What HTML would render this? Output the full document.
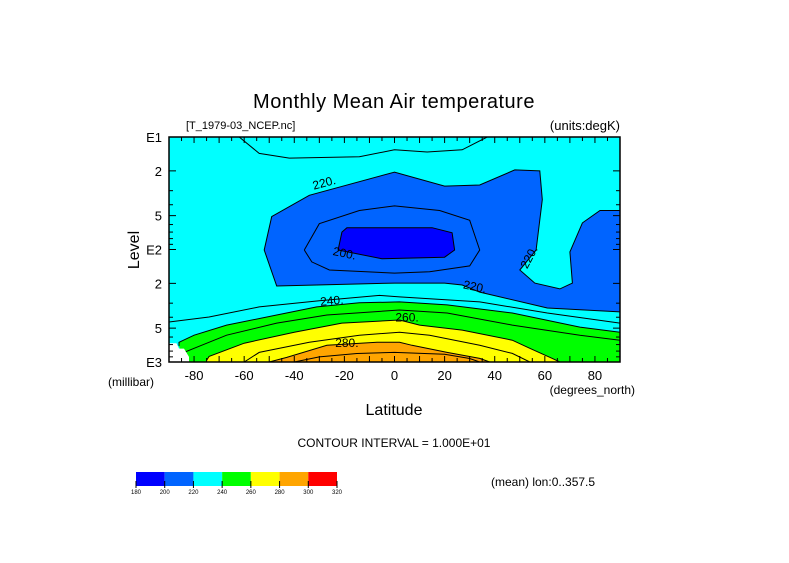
<!DOCTYPE html>
<html><head><meta charset="utf-8"><style>
body{margin:0;background:#fff;}
svg text{font-family:"Liberation Sans",sans-serif;fill:#000;}
</style></head><body>
<svg id="chart" width="789" height="558" xmlns="http://www.w3.org/2000/svg">
<rect width="789" height="558" fill="#fff"/>
<text x="394" y="108" font-size="20" text-anchor="middle" letter-spacing="0.5">Monthly Mean Air temperature</text>
<text x="186" y="129" font-size="11">[T_1979-03_NCEP.nc]</text>
<text x="620" y="130" font-size="13" text-anchor="end">(units:degK)</text>
<g id="plot"></g>
<text transform="translate(139,250) rotate(-90)" font-size="16" text-anchor="middle">Level</text>
<text x="108" y="386" font-size="12">(millibar)</text>
<text x="635" y="394" font-size="12" text-anchor="end">(degrees_north)</text>
<text x="394" y="415" font-size="16" text-anchor="middle">Latitude</text>
<text x="394" y="447" font-size="12" text-anchor="middle">CONTOUR INTERVAL = 1.000E+01</text>
<g id="cbar"></g>
<text x="491" y="486" font-size="12">(mean) lon:0..357.5</text>
</svg>
<script>
const xTicks=[-80,-60,-40,-20,0,20,40,60,80];
const yTickVals=[10,20,50,100,200,500,1000];
const yTickLabels=["E1","2","5","E2","2","5","E3"];
const cbLevels=[180,200,220,240,260,280,300,320];
const cbColors=["#0000ff","#0064ff","#00ffff","#00ff00","#ffff00","#ffa500","#ff0000"];
// contours: [lat, pressure(mb)]
const c230top=[[-62,10],[-54,14],[-42,15.4],[-14,15],[0,13],[13,13.6],[27,13],[37,10]];
const blue220=[[-47,211],[-52,101],[-49,51],[-34,33],[0,20.5],[20,27.3],[34,26.7],[48,19.6],[58,20],[59,36],[56.5,101],[50,152],[56,199],[66,224],[71,199],[70,105],[75,58],[82,45],[90,45],[90,359],[61,331],[34,239],[27,207],[20,199],[0,199],[-47,211]];
const blue210=[[-36,101],[-30,59],[-14,45],[0,41],[18,45],[30,55],[34,101],[30,140],[14,158],[0,162],[-26,152],[-33,129],[-36,101]];
const dark200=[[-21,70],[-19,64],[15,64],[23,71],[24,101],[20,117],[-5,121],[-22.5,101],[-21,70]];
const c230low=[[-90,441],[-74,398],[-54,324],[-30,286],[-6,256],[2,264],[34,292],[61,367],[90,451]];
const green240=[[-84,1000],[-86,720],[-86,668],[-80,578],[-67,470],[-47,382],[-31,324],[-14,298],[2,292],[21,311],[47,367],[74,490],[90,543],[90,1000]];
const c250=[[-83,1000],[-84,822],[-80,756],[-67,578],[-47,451],[-27,382],[2,345],[21,367],[47,470],[74,578],[90,640]];
const yellow260=[[-75,1000],[-75,968],[-74,891],[-60,681],[-40,543],[-21,451],[2,423],[10,470],[27,521],[47,640],[54,756],[63,929],[66,1000]];
const c270=[[-60,1000],[-54,822],[-34,668],[-14,578],[2,543],[14,578],[34,710],[47,839],[54,1000]];
const orange280=[[-50,1000],[-43,910],[-27,710],[-7,668],[2,668],[7,710],[21,822],[34,929],[38,1000]];
const c290=[[-40,1000],[-30,900],[-15,840],[0,822],[20,855],[30,930],[34,1000]];
const missing=[[-90,680],[-87,680],[-86,760],[-84,760],[-82,900],[-82,1000],[-90,1000]];
const labels=[["220.",-28,26,-15],["200.",-20,110,12],["220.",32,218,12],["220.",54,118,-62],["240.",-25,290,-5],["260.",5,410,0],["280.",-19,690,0]];

const X0=169,X1=620,Y0=137,Y1=362;
const x=l=>X0+(l+90)/180*(X1-X0);
const y=p=>Y0+(Math.log10(p)-1)/2*(Y1-Y0);
const NS="http://www.w3.org/2000/svg";
const plot=document.getElementById('plot');
function mk(tag,attrs,parent){const e=document.createElementNS(NS,tag);for(const k in attrs)e.setAttribute(k,attrs[k]);(parent||plot).appendChild(e);return e;}
const pts=a=>a.map(d=>x(d[0]).toFixed(1)+","+y(d[1]).toFixed(1)).join(" ");

const defs=mk('defs',{});
const cp=mk('clipPath',{id:'clip'},defs);
mk('rect',{x:X0,y:Y0,width:X1-X0,height:Y1-Y0},cp);
const g=mk('g',{'clip-path':'url(#clip)'});
const bg=mk('rect',{x:X0,y:Y0,width:X1-X0,height:Y1-Y0,fill:'#00ffff'},g);


function poly(a,fill,stroke,name){const e=mk(fill?'polygon':'polyline',{points:pts(a),fill:fill||'none',stroke:stroke?'#000':'none','stroke-width':1},g);

}
poly(c230top,null,true,'contour-230-top');
poly(blue220,'#0064ff',true,'fill-200-220');
poly(blue210,null,true,'contour-210');
poly(dark200,'#0000ff',true,'fill-180-200');
poly(c230low,null,true,'contour-230-lower');
poly(green240,'#00ff00',false,'fill-240-260');
poly(green240.slice(1,-1),null,true,'contour-240');
poly(c250,null,true,'contour-250');
poly(yellow260,'#ffff00',false,'fill-260-280');
poly(yellow260.slice(1),null,true,'contour-260');
poly(c270,null,true,'contour-270');
poly(orange280,'#ffa500',false,'fill-280-300');
poly(orange280,null,true,'contour-280');
poly(c290,null,true,'contour-290');
poly(missing,'#ffffff',false,'missing-data');
labels.forEach(l=>{const t=mk('text',{x:x(l[1]),y:y(l[2]),'font-size':12,'text-anchor':'middle','dominant-baseline':'middle',transform:`rotate(${l[3]} ${x(l[1])} ${y(l[2])})`},g);t.textContent=l[0];

});
const fr=mk('rect',{x:X0,y:Y0,width:X1-X0,height:Y1-Y0,fill:'none',stroke:'#000','stroke-width':1.5});


// x ticks
for(let l=-90;l<=90;l+=5){const len=l%10===0?6:4;
mk('line',{x1:x(l),x2:x(l),y1:Y1,y2:Y1-len,stroke:'#000'});
mk('line',{x1:x(l),x2:x(l),y1:Y0,y2:Y0+len,stroke:'#000'});}
xTicks.forEach(l=>{const t=mk('text',{x:x(l),y:Y1+18,'font-size':13,'text-anchor':'middle'});t.textContent=l;

});
// y ticks
for(let d=10;d<1000;d*=10)for(let m=1;m<10;m++){const p=d*m;const len=(m===1||m===2||m===5)?7:4;
mk('line',{x1:X0,x2:X0+len,y1:y(p),y2:y(p),stroke:'#000'});
mk('line',{x1:X1,x2:X1-len,y1:y(p),y2:y(p),stroke:'#000'});}
yTickVals.forEach((p,i)=>{const t=mk('text',{x:X0-7,y:y(p)+5,'font-size':13,'text-anchor':'end'});t.textContent=yTickLabels[i];

});
// colorbar
const cb=document.getElementById('cbar');
const cx=v=>136+(v-180)/140*201;
cbColors.forEach((c,i)=>{const r=mk('rect',{x:cx(cbLevels[i]),y:472,width:cx(cbLevels[i+1])-cx(cbLevels[i]),height:14,fill:c},cb);

});
cbLevels.forEach(v=>{mk('line',{x1:cx(v),x2:cx(v),y1:481,y2:488,stroke:'#000'},cb);
const t=mk('text',{x:cx(v),y:494,'font-size':6,'text-anchor':'middle'},cb);t.textContent=v;

});
</script>
</body></html>
